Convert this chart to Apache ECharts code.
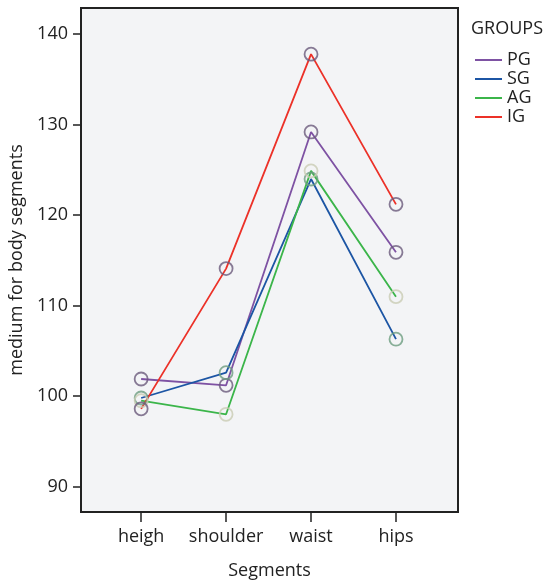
<!DOCTYPE html>
<html>
<head>
<meta charset="utf-8">
<script src="https://cdn.jsdelivr.net/npm/echarts@6/dist/echarts.min.js"></script>
<style>
  html, body { margin: 0; padding: 0; background: #fff; }
  #main { width: 550px; height: 581px; }
</style>
</head>
<body>
<div id="main"></div>
<script>
var segments = ['heigh', 'shoulder', 'waist', 'hips'];
var groups = ['PG', 'SG', 'AG', 'IG'];
var pgValues = [101.9, 101.2, 129.2, 115.9];
var sgValues = [99.8, 102.6, 124.0, 106.3];
var agValues = [99.5, 98.0, 124.9, 111.0];
var igValues = [98.6, 114.1, 137.8, 121.2];
var yTicks = [90, 100, 110, 120, 130, 140];

var lineColors = { PG: '#7e52a3', SG: '#1c55a4', AG: '#3bb54a', IG: '#ec3128' };
var markColors = { PG: '#6a5a7c', SG: '#6c9c80', AG: '#c9ccb4', IG: '#6a5a7c' };
var values = { PG: pgValues, SG: sgValues, AG: agValues, IG: igValues };

var font = 'Open Sans';
var myChart = echarts.init(document.getElementById('main'));

function points(arr) {
    return arr.map(function (v, i) { return [i, v]; });
}

var series = [];
groups.forEach(function (g) {
    series.push({
        name: g, type: 'line', data: points(values[g]),
        showSymbol: false, color: lineColors[g],
        lineStyle: { width: 1.8, color: lineColors[g] }, z: 2
    });
});
// hollow markers drawn on top, in their own colours
groups.forEach(function (g) {
    series.push({
        name: g + '_m', type: 'scatter', data: points(values[g]),
        symbol: 'circle', symbolSize: 13,
        itemStyle: { color: 'rgba(0,0,0,0)', borderColor: markColors[g], borderWidth: 1.8 },
        z: 3
    });
});

var option = {
    animation: false,
    textStyle: { fontFamily: font },
    title: {
        text: 'GROUPS', left: 466, top: 15,
        textStyle: { fontSize: 18, fontWeight: 'normal', color: '#222', fontFamily: font }
    },
    legend: {
        data: groups, orient: 'vertical', left: 470, top: 46,
        icon: 'rect', itemWidth: 27, itemHeight: 2, itemGap: 1,
        textStyle: { fontSize: 18, color: '#222', fontFamily: font, lineHeight: 17 }
    },
    grid: {
        left: 81, right: 92, top: 8, bottom: 69, outerBoundsMode: 'none',
        show: true, backgroundColor: '#f3f4f6', borderColor: '#222', borderWidth: 2
    },
    xAxis: {
        type: 'value', min: -0.708, max: 3.73,
        name: 'Segments', nameLocation: 'middle', nameGap: 50,
        nameTextStyle: { fontSize: 18, color: '#222', fontFamily: font },
        axisLine: { show: false, onZero: false },
        splitLine: { show: false },
        axisTick: { show: true, length: 10, customValues: [0, 1, 2, 3], lineStyle: { color: '#222', width: 1.5 } },
        axisLabel: {
            customValues: [0, 1, 2, 3], margin: 16, fontSize: 18, color: '#222', fontFamily: font,
            formatter: function (v) { return segments[Math.round(v)]; }
        }
    },
    yAxis: {
        type: 'value', min: 87.2, max: 142.9,
        name: 'medium for body segments', nameLocation: 'middle', nameGap: 52,
        nameTextStyle: { fontSize: 18, color: '#222', fontFamily: font },
        axisLine: { show: false, onZero: false },
        splitLine: { show: false },
        axisTick: { show: true, length: 8, customValues: yTicks, lineStyle: { color: '#222', width: 1.5 } },
        axisLabel: { customValues: yTicks, margin: 13, fontSize: 18, color: '#222', fontFamily: font }
    },
    series: series
};
myChart.setOption(option);
</script>
</body>
</html>
